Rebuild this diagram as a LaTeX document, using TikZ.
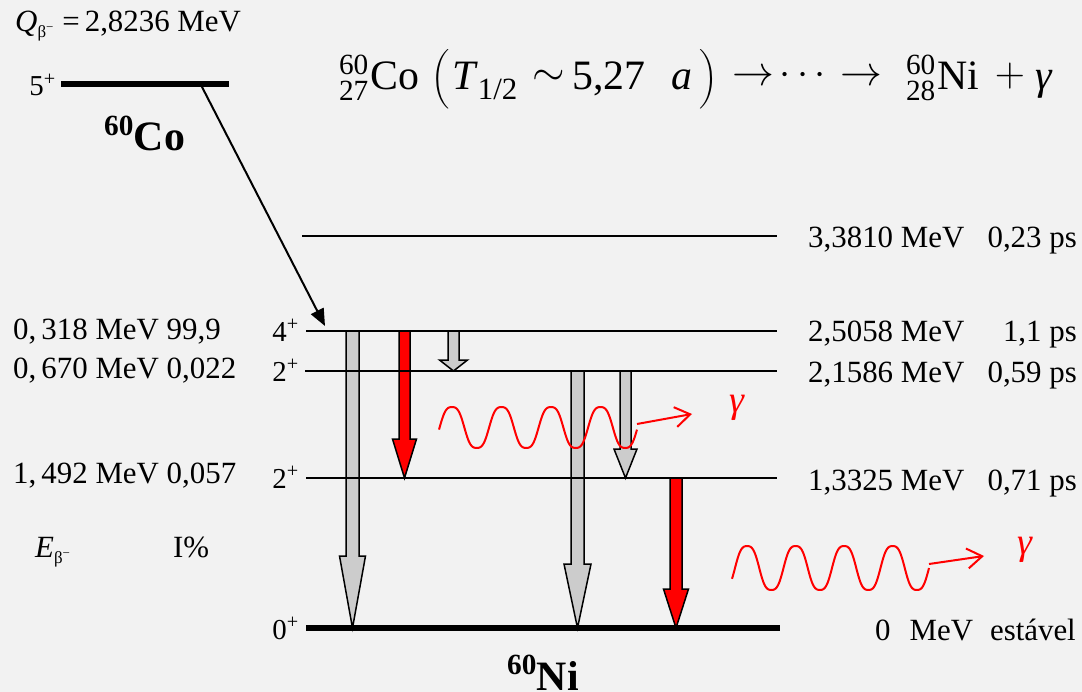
\RequirePackage{fix-cm}
\documentclass[tikz,border=0pt]{standalone}
\usepackage{amsmath}
\usepackage{fontspec}
\setmainfont{Liberation Serif}
\usetikzlibrary{arrows.meta}
\definecolor{bg}{HTML}{F2F2F2}
\definecolor{gry}{HTML}{CCCCCC}
\definecolor{rd}{HTML}{FF0000}
\tikzset{
  lvl/.style={line width=2bp},
  lvlthick/.style={line width=5.5bp},
  lbl/.style={inner sep=0pt, font=\fontsize{31}{36}\selectfont},
  spin/.style={inner sep=0pt, anchor=base east, font=\fontsize{29}{34}\selectfont},
  fat/.style={draw=black, line width=1.5bp, line join=miter},
  wave/.style={draw=rd, line width=2bp},
  gam/.style={draw=rd, line width=2bp, -{Straight Barb[length=15bp,width=20bp,line width=2bp]}},
  gamlbl/.style={text=rd, inner sep=0pt, font=\fontsize{38}{40}\selectfont\itshape},
  nuc/.style={inner sep=0pt, anchor=base west, font=\fontsize{42}{48}\selectfont\bfseries},
  ttl/.style={inner sep=0pt, anchor=base west, font=\fontsize{42}{50}\selectfont},
}
% x, ytop, ybottom, half shaft, half head, head start y, colour
\newcommand\fatarrow[7]{%
  \draw[fat, fill=#7] ({#1-#4},#2) -- ({#1+#4},#2) -- ({#1+#4},#6) -- ({#1+#5},#6)
    -- (#1,#3) -- ({#1-#5},#6) -- ({#1-#4},#6) -- cycle;}
\newcommand\betasub{\raisebox{-6bp}{\fontsize{17}{17}\selectfont β\raisebox{6bp}{\fontsize{13}{13}\selectfont −}}}
\begin{document}
\begin{tikzpicture}[x=1bp,y=-1bp]
\useasboundingbox (0,0) rectangle (1082,692);
\fill[bg] (0,0) rectangle (1082,692);

% title, piece by piece
\node[ttl, anchor=base east] (ps1) at (369,90) {${}^{\text{60}}_{\text{27}}$};
\node[ttl] (tco) at (370,90) {Co};
\node[ttl] (tp1) at (431,90) {$\bigl($};
\node[ttl] (tT) at (452,90) {\textit{T}\raisebox{-10bp}{\fontsize{31}{31}\selectfont 1/2}};
\node[ttl] (tsim) at (532,86) {${\sim}$};
\node[ttl] (t527) at (572,90) {5,27};
\node[ttl] (ta) at (671,90) {\textit{a}};
\node[ttl] (tp2) at (699,90) {$\bigr)$};
\node[ttl] (tar1) at (732,86) {$\rightarrow$};
\node[ttl, anchor=base, font=\fontsize{40}{44}\selectfont] (tdots) at (806,85) {$\cdots$};
\node[ttl] (tar2) at (840,86) {$\rightarrow$};
\node[ttl, anchor=base east] (ps2) at (936,90) {${}^{\text{60}}_{\text{28}}$};
\node[ttl] (tni) at (937,90) {Ni};
\node[ttl, anchor=base] (tplus) at (1010,87) {$+$};
\node[ttl] (tgam) at (1035,90) {\textit{γ}};

% Q value
\node[lbl, anchor=base west] (q) at (15,32) {\textit{Q}\betasub\hspace{9bp}=\hspace{5bp}2,8236 MeV};

% Co level
\coordinate (coL) at (61,84);
\coordinate (coR) at (229,84);
\draw[lvlthick] (coL) -- (coR);
\node[spin] (s5) at (56,96) {5\textsuperscript{+}};
\node[nuc] (co) at (104,151) {\textsuperscript{60}Co};

% Ni levels
\coordinate (l4L) at (302,236); \coordinate (l4R) at (777,236);
\coordinate (l3L) at (306,331); \coordinate (l3R) at (777,331);
\coordinate (l2L) at (305,371); \coordinate (l2R) at (777,371);
\coordinate (l1L) at (306,478); \coordinate (l1R) at (777,478);
\coordinate (l0L) at (306,628); \coordinate (l0R) at (780,628);

% transitions (drawn below level lines)
\fatarrow{352.5}{331}{628}{6.5}{13}{556}{gry}
\fatarrow{404.5}{331}{478}{5.5}{12}{439}{rd}
\fatarrow{453.5}{331}{371}{5.5}{14}{360}{gry}
\fatarrow{577.5}{371}{628}{6.5}{13.5}{564}{gry}
\fatarrow{625.5}{371}{478}{5.5}{11.5}{449}{gry}
\fatarrow{676}{478}{628}{6}{12.5}{589}{rd}

\draw[lvl] (l4L) -- (l4R);
\draw[lvl] (l3L) -- (l3R);
\draw[lvl] (l2L) -- (l2R);
\draw[lvl] (l1L) -- (l1R);
\draw[lvlthick] (l0L) -- (l0R);

% beta decay arrow
\coordinate (b0) at (201,85);
\coordinate (b1) at (325,326);
\draw[line width=2bp, -{Triangle[length=17bp,width=14bp]}] (b0) -- (b1);

% spins
\node[spin] (s4) at (299,341) {4\textsuperscript{+}};
\node[spin] (s2a) at (299,381) {2\textsuperscript{+}};
\node[spin] (s2b) at (299,488) {2\textsuperscript{+}};
\node[spin] (s0) at (299,639) {0\textsuperscript{+}};

% right labels
\node[lbl, anchor=base west] (e4) at (808,247) {3,3810 MeV};
\node[lbl, anchor=base east] (t4) at (1077,247) {0,23 ps};
\node[lbl, anchor=base west] (e3) at (808,341) {2,5058 MeV};
\node[lbl, anchor=base east] (t3) at (1077,341) {1,1 ps};
\node[lbl, anchor=base west] (e2) at (808,382) {2,1586 MeV};
\node[lbl, anchor=base east] (t2) at (1077,382) {0,59 ps};
\node[lbl, anchor=base west] (e1) at (808,490) {1,3325 MeV};
\node[lbl, anchor=base east] (t1) at (1077,490) {0,71 ps};
\node[lbl, anchor=base east] (e0) at (1076,640) {0\hspace{19bp}MeV\hspace{17bp}estável};

% left labels
\node[lbl, anchor=base west] (b4) at (13,339) {0,\,318 MeV 99,9};
\node[lbl, anchor=base west] (b2) at (13,378) {0,\,670 MeV 0,022};
\node[lbl, anchor=base west] (b1l) at (13,483) {1,\,492 MeV 0,057};
\node[lbl, anchor=base west] (eb) at (35,557) {\textit{E}\betasub};
\node[lbl, anchor=base west] (ip) at (173,557) {I\%};

% nickel label
\node[nuc] (ni) at (507,690) {\textsuperscript{60}Ni};

% gamma waves
\draw[wave] plot[domain=439:637, samples=240, smooth]
  (\x, {427.5-20.5*(sin((\x-439.6)*7.2727)+0.08*sin(3*(\x-439.6)*7.2727))/0.92});
\coordinate (w1e) at (637,424);
\coordinate (w1t) at (692,414);
\draw[gam] (w1e) -- (w1t);
\node[gamlbl] (g1) at (737,408) {γ};

\draw[wave] plot[domain=732:929, samples=240, smooth]
  (\x, {568-22*(sin((\x-735)*7.4227)+0.08*sin(3*(\x-735)*7.4227))/0.92});
\coordinate (w2e) at (929,564);
\coordinate (w2t) at (984,556);
\draw[gam] (w2e) -- (w2t);
\node[gamlbl] (g2) at (1025,550) {γ};
\end{tikzpicture}
\end{document}
